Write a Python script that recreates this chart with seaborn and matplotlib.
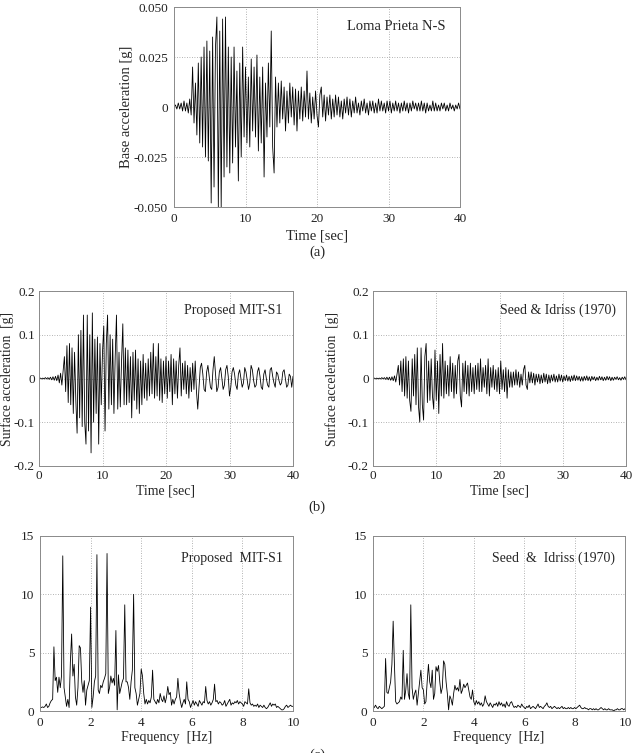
import numpy as np
import matplotlib
matplotlib.use("Agg")
import matplotlib.pyplot as plt
import seaborn as sns

# time axis, 0.2 s step (201 samples), accelerations in milli-g
time_s = np.round(np.arange(201) * 0.2, 1)

base_mg = [
    0, 1, -1, 2, -1,  2, -2, 3, -2, 2,  -3, 4, -4, 20, -8,  12, -14, 22, -18, 25,
    -20, 30, -25, 33, -27,  28, -48, 35, -40, 30,  45, -50, 38, -50, 44,  -35, 45, -30, 30, -33,
    25, -28, 30, -20, 18,  -37, 22, -25, 30, -15,  20, -18, 15, -20, 24,  -12, 20, -15, 26, -22,
    15, -18, 20, -35, 12,  -15, 22, -10, 38, -20,  -33, 15, -10, 12, -8,  13, -6, 10, -12, 8,
    -8, 12, -5, 10, -9,  9, -12, 8, -6, 10,  -7, 8, -5, 18, -6,  7, -8, 5, -6, 8,
    -4, -10, 6, 10, -5,  6, -7, 5, -4, 6,  -6, 4, -5, 6, -4,  5, -5, 3, -6, 4,
    -3, 5, -4, 4, -5,  3, -3, 5, -3, 2,  -4, 3, -2, 4, -3,  2, -4, 3, -2, 3,
    -3, 2, -3, 4, -2,  3, -2, 2, -3, 3,  -2, 3, -3, 2, -2,  3, -2, 2, -3, 2,
    -2, 3, -2, 2, -3,  2, -2, 3, -1, 2,  -2, 2, -2, 3, -2,  2, -3, 2, -2, 1,
    -2, 3, -2, 2, -2,  1, -2, 2, -1, 2,  -2, 1, -2, 2, -1,  1, -2, 1, -1, 2,
    -1,
]

mit_mg = [
    0, 1, -1, 1, -1,  2, -1, 2, -2, 3,  -3, 4, -4, 5, -5,  8, -10, 12, -15, 18,
    50, -30, 75, -55, 80,  -60, 70, -80, 60, -50,  -125, 100, -90, 110, -110,  145, -100, -150, 145, -120,
    100, -170, 150, -100, 90,  -80, 95, -150, 80, -60,  60, 120, -120, 80, 145,  -70, 100, -60, 90, -80,
    50, 145, -70, 60, -65,  40, 125, -60, 70, -60,  65, -55, 50, -90, 60,  -50, 65, -70, 45, -80,
    40, -60, 55, -45, 35,  -50, 45, -40, 60, -35,  80, -45, 50, -40, 80,  -50, 45, -55, 40, -35,
    50, -45, 40, -30, 55,  -60, 45, -35, 40, -45,  30, 70, -40, 35, -25,  40, -35, 30, -45, 25,
    -30, 35, -25, 40, -30,  -70, -20, 25, 35, 10,  -25, -30, 15, 30, 5,  -20, -25, 20, 50, 10,
    -30, -20, 15, 25, 0,  -25, -15, 20, 30, 5,  -40, -20, 15, 25, 10,  -15, -25, 10, 20, 0,
    -20, -10, 25, 15, -5,  -25, -10, 30, 20, -5,  -20, -15, 15, 25, 5,  -20, -25, 10, 20, 0,
    -15, -20, 20, 25, 5,  -10, -20, 15, 10, -5,  -15, -10, 15, 20, 0,  -20, -15, 10, 5, -20,
    5,
]

seed_mg = [
    0, 1, -1, 1, -1,  1, -1, 2, -1, 2,  -2, 3, -3, 3, -4,  4, -5, 6, -8, 10,
    30, -15, 40, -30, 45,  -40, 50, -45, 40, -50,  -75, 45, -40, 55, -60,  70, -65, -100, 70, -60,
    -95, 50, 80, -55, 40,  -50, 45, -40, -70, 65,  -50, 40, -80, 55, -40,  80, -45, 40, -35, 30,
    -40, 50, -30, 35, -45,  30, -35, 40, 55, -40,  -65, 35, -30, 40, -35,  30, -40, 35, -30, 25,
    -35, 30, -25, 35, -30,  45, -30, 25, -20, 30,  -35, 45, -40, 25, -20,  30, -25, 20, -30, 25,
    -35, 40, -25, 20, -30,  25, -45, 20, -20, 15,  -20, 15, -15, 20, -15,  15, -20, 10, -15, 20,
    30, -15, -25, 15, -10,  15, -10, 12, -15, 10,  -8, 10, -12, 8, -10,  12, -8, 10, -12, 8,
    -10, 8, -6, 10, -8,  6, -8, 10, -6, 8,  -8, 6, -5, 8, -6,  5, -7, 6, -5, 8,
    -5, 6, -4, 5, -6,  4, -6, 5, -4, 6,  -5, 4, -6, 5, -3,  4, -5, 3, -4, 5,
    -3, 4, -5, 3, -4,  5, -3, 4, -5, 3,  -4, 3, -2, 4, -3,  2, -4, 3, -2, 4,
    -3,
]

# Fourier amplitude, 0.05 Hz step (201 samples)
freq_hz = np.round(np.arange(201) * 0.05, 2)

mit_fourier = [
    0.3, 0.3, 0.35, 0.3, 0.4, 0.6, 0.3, 0.4, 0.7, 0.9,
    1.0, 5.5, 2.6, 2.9, 1.6, 2.9, 2.0, 3.0, 13.3, 2.0,
    1.2, 0.4, 1.0, 0.3, 4.2, 6.6, 3.0, 4.0, 1.2, 0.5,
    2.0, 5.6, 5.4, 2.5, 1.6, 2.6, 0.5, 1.8, 2.2, 2.6,
    8.9, 0.3, 1.2, 2.5, 3.0, 13.4, 1.8, 1.5, 2.2, 2.0,
    2.5, 2.8, 3.2, 13.5, 1.5, 2.0, 3.0, 2.4, 2.8, 2.2,
    6.9, 0.1, 3.1, 1.5, 2.0, 2.5, 2.8, 9.1, 2.5, 2.5,
    2.0, 1.0, 2.5, 3.5, 10.0, 2.0, 1.5, 0.5, 1.0, 1.5,
    3.6, 3.0, 1.5, 0.6, 1.0, 0.6, 0.9, 0.7, 1.2, 3.5,
    1.0, 0.8, 0.6, 1.0, 0.7, 1.5, 1.0, 0.8, 1.3, 0.7,
    1.2, 2.1, 1.4, 1.6, 0.5, 1.0, 0.6, 1.0, 1.2, 2.8,
    1.5, 0.8, 0.3, 0.7, 1.0, 0.6, 2.5, 1.0, 0.8, 0.3,
    0.6, 0.9, 0.5, 0.8, 0.6, 0.4, 0.9, 0.7, 0.5, 0.8,
    0.7, 2.1, 0.9, 0.6, 0.8, 0.5, 0.7, 1.0, 2.3, 0.8,
    0.9, 0.6, 0.8, 0.7, 0.5, 0.6, 0.9, 0.4, 0.6, 0.8,
    1.0, 0.5, 0.7, 0.6, 0.8, 0.7, 0.9, 0.6, 0.8, 0.7,
    0.6, 0.4, 0.8, 0.7, 0.6, 1.9, 0.7, 0.5, 0.6, 0.4,
    0.5, 0.4, 0.6, 0.3, 0.5, 0.4, 0.3, 0.5, 0.3, 0.2,
    0.3, 0.5, 0.7, 0.4, 0.6, 0.5, 0.6, 0.3, 0.4, 0.3,
    0.2, 0.1, 0.1, 0.2, 0.4, 0.5, 0.3, 0.4, 0.5, 0.4,
    0.4,
]

seed_fourier = [
    0.2, 0.3, 0.5, 0.3, 0.2, 0.4, 0.3, 0.2, 0.3, 0.4,
    4.5, 1.6, 1.5, 2.0, 2.5, 4.0, 7.7, 4.0, 0.8, 0.6,
    0.7, 0.8, 1.2, 1.0, 5.2, 1.0, 1.8, 3.2, 1.5, 1.0,
    9.1, 2.0, 1.0, 1.5, 1.8, 0.5, 1.5, 2.5, 3.5, 2.0,
    1.8, 0.6, 0.8, 2.5, 4.0, 2.5, 2.0, 3.5, 1.0, 1.5,
    3.8, 3.4, 3.9, 2.5, 1.5, 2.0, 4.3, 4.0, 2.5, 1.5,
    0.1, 1.3, 1.0, 0.5, 1.5, 2.2, 1.8, 2.0, 1.7, 2.7,
    1.5, 1.8, 2.3, 2.0, 2.2, 2.4, 1.8, 1.2, 1.0, 1.8,
    0.8, 0.5, 0.9, 0.6, 0.8, 0.5, 0.7, 0.4, 0.6, 1.3,
    0.8, 0.6, 0.4, 0.7, 0.5, 0.3, 0.6, 0.5, 0.7, 0.4,
    0.8, 0.5, 0.7, 0.4, 0.6, 0.3, 0.8, 0.5, 0.4, 0.7,
    0.8, 0.5, 0.3, 0.4, 0.3, 0.5, 0.4, 0.3, 0.6, 0.4,
    0.3, 0.2, 0.4, 0.3, 0.5, 0.2, 0.3, 0.4, 0.3, 0.2,
    0.4, 0.6, 0.3, 0.4, 0.3, 0.2, 0.4, 0.5, 0.7, 0.4,
    0.3, 0.4, 0.2, 0.3, 0.4, 0.3, 0.2, 0.3, 0.2, 0.3,
    0.4, 0.2, 0.3, 0.2, 0.2, 0.3, 0.2, 0.3, 0.2, 0.2,
    0.3, 0.2, 0.3, 0.4, 0.5, 0.3, 0.2, 0.2, 0.3, 0.2,
    0.2, 0.1, 0.2, 0.2, 0.1, 0.2, 0.1, 0.2, 0.1, 0.1,
    0.2, 0.3, 0.2, 0.1, 0.2, 0.1, 0.1, 0.2, 0.1, 0.1,
    0.1, 0.0, 0.1, 0.1, 0.2, 0.1, 0.1, 0.2, 0.2, 0.1,
    0.2,
]

sns.set_theme(style="white")
plt.rcParams["font.family"] = ["Liberation Serif", "DejaVu Serif"]
plt.rcParams["font.size"] = 9.5

W, H = 635, 753


def box(x0, y0, x1, y1):
    # pixel box (top-left origin) -> figure fraction rect
    return [x0 / W, 1 - y1 / H, (x1 - x0) / W, (y1 - y0) / H]


def style(ax, xlim, ylim, xticks, yticks, yticklabels=None, pad=4):
    ax.set_xlim(*xlim)
    ax.set_ylim(*ylim)
    ax.set_xticks(xticks)
    ax.set_yticks(yticks)
    if yticklabels is not None:
        ax.set_yticklabels(yticklabels)
    ax.grid(True, ls=(0, (1, 2)), color="#9a9a9a", lw=0.6)
    ax.tick_params(length=0, pad=pad, labelsize=9.5, colors="#222222")
    for sp in ax.spines.values():
        sp.set_color("#8a8a8a")
        sp.set_linewidth(0.7)


def trace(ax, x, y):
    sns.lineplot(x=x, y=y, ax=ax, color="black", lw=0.6, estimator=None, sort=False)
    ax.set_xlabel("")
    ax.set_ylabel("")


fig = plt.figure(figsize=(W / 100, H / 100), dpi=100)

# (a) base input
ax_a = fig.add_axes(box(174, 7, 460, 207))
trace(ax_a, time_s, np.array(base_mg) / 1000.0)
style(ax_a, (0, 40), (-0.05, 0.05), [0, 10, 20, 30, 40],
      [-0.05, -0.025, 0, 0.025, 0.05], ["-0.050", "-0.025", "0", "0.025", "0.050"], pad=4.5)
ax_a.set_xlabel("Time [sec]", fontsize=10.5, labelpad=3)
ax_a.set_ylabel("Base acceleration [g]", fontsize=10.5)
ax_a.yaxis.set_label_coords((133 - 174) / 286, 0.5)
ax_a.text(0.95, 0.9, "Loma Prieta N-S", transform=ax_a.transAxes,
          ha="right", va="center", fontsize=10.5)

# (b) surface accelerations
ticks_b = [-0.2, -0.1, 0, 0.1, 0.2]
labels_b = ["-0.2", "-0.1", "0", "0.1", "0.2"]
for (x0, x1), lab_x, series, name in [((39, 293), 14, mit_mg, "Proposed MIT-S1"),
                                      ((373, 626), 339, seed_mg, "Seed & Idriss (1970)")]:
    ax = fig.add_axes(box(x0, 291, x1, 466))
    trace(ax, time_s, np.array(series) / 1000.0)
    style(ax, (0, 40), (-0.2, 0.2), [0, 10, 20, 30, 40], ticks_b, labels_b, pad=3)
    ax.set_xlabel("Time [sec]", fontsize=10, labelpad=2)
    ax.set_ylabel("Surface acceleration  [g]", fontsize=9.8)
    ax.yaxis.set_label_coords((lab_x - x0) / (x1 - x0), 0.5)
    ax.text(0.96, 0.89, name, transform=ax.transAxes, ha="right", va="center", fontsize=10)

# (c) Fourier amplitude spectra
for (x0, x1), series, name in [((40, 293), mit_fourier, "Proposed  MIT-S1"),
                               ((373, 625), seed_fourier, "Seed  &  Idriss (1970)")]:
    ax = fig.add_axes(box(x0, 536, x1, 711))
    trace(ax, freq_hz, series)
    style(ax, (0, 10), (0, 15), [0, 2, 4, 6, 8, 10], [0, 5, 10, 15], pad=4)
    ax.set_xlabel("Frequency  [Hz]", fontsize=10, labelpad=2)
    ax.text(0.96, 0.87, name, transform=ax.transAxes, ha="right", va="center", fontsize=10)

fig.text(317 / W, 1 - 252 / H, "(a)", ha="center", va="center", fontsize=10.5)
fig.text(317 / W, 1 - 507 / H, "(b)", ha="center", va="center", fontsize=10.5)
fig.text(317 / W, 1 - 755 / H, "(c)", ha="center", va="center", fontsize=10.5)

fig.savefig("out.png", dpi=100, facecolor="white")
